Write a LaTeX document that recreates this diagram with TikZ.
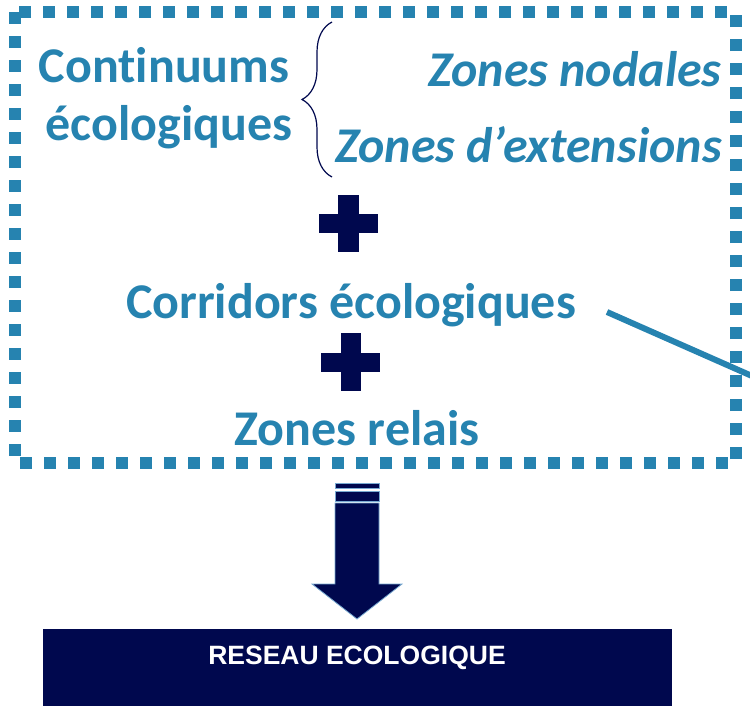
\documentclass[tikz,border=0pt]{standalone}
\usepackage{fontspec}
\setmainfont[Ligatures=NoCommon]{Carlito}
\newfontfamily\arialfont{Liberation Sans}
\usepackage{tikz}
\usetikzlibrary{decorations.pathreplacing}
\definecolor{bleu}{RGB}{38,131,176}
\definecolor{marine}{RGB}{0,8,78}
\definecolor{bleuclair}{RGB}{120,170,210}
\tikzset{titre/.style={text=bleu, font=\fontsize{50}{60}\bfseries\selectfont, inner sep=0pt, anchor=base},
         zone/.style={titre, font=\fontsize{50}{60}\bfseries\itshape\selectfont, anchor=base east},
         cadre/.style={draw=bleu, line width=12pt, dash pattern=on 12pt off 12pt},
         croix/.style={fill=marine},
         resbox/.style={fill=marine, minimum width=629pt, minimum height=77pt, inner sep=0pt}}

\begin{document}
\begin{tikzpicture}[x=1pt, y=-1pt]
    \useasboundingbox (0,0) rectangle (750,707);

    \draw[cadre] (15,12) rectangle (736,463);

    \node[titre] (cont) at (164,82)   {Continuums};
    \node[titre] (eco)  at (169,140)  {écologiques};
    \node[zone]  (nod)  at (722,86)   {Zones nodales};
    \node[zone]  (ext)  at (722,162)  {Zones d’extensions};
    \draw[marine, line width=1.2pt, decorate, decoration={brace, amplitude=30pt}] (332,177) -- (332,22);

    \fill[croix] (338,195) rectangle (359,252);
    \fill[croix] (319,214) rectangle (378,233);

    \node[titre] (corr) at (351,318)  {Corridors écologiques};
    \coordinate (lienA) at (607,312);
    \coordinate (lienB) at (752,376);
    \draw[bleu, line width=6pt] (lienA) -- (lienB);

    \fill[croix] (341,333) rectangle (361,391);
    \fill[croix] (321,353) rectangle (380,372);

    \node[titre] (relais) at (357,445) {Zones relais};

    % fleche vers le reseau
    \filldraw[marine, draw=bleuclair, line width=0.8pt] (335,483) rectangle (379,488);
    \filldraw[marine, draw=bleuclair, line width=0.8pt] (335,491) rectangle (379,501);
    \filldraw[marine, draw=bleuclair, line width=0.8pt]
        (335,503) -- (379,503) -- (379,584) -- (402,584) -- (357,619)
        -- (312,584) -- (335,584) -- cycle;

    \node[resbox] (reseau) at (357.5,667.5) {};
    \node[text=white, font=\arialfont\fontsize{26.5}{30}\bfseries\selectfont, anchor=base] (restxt) at (357,664) {RESEAU ECOLOGIQUE};
\end{tikzpicture}
\end{document}
